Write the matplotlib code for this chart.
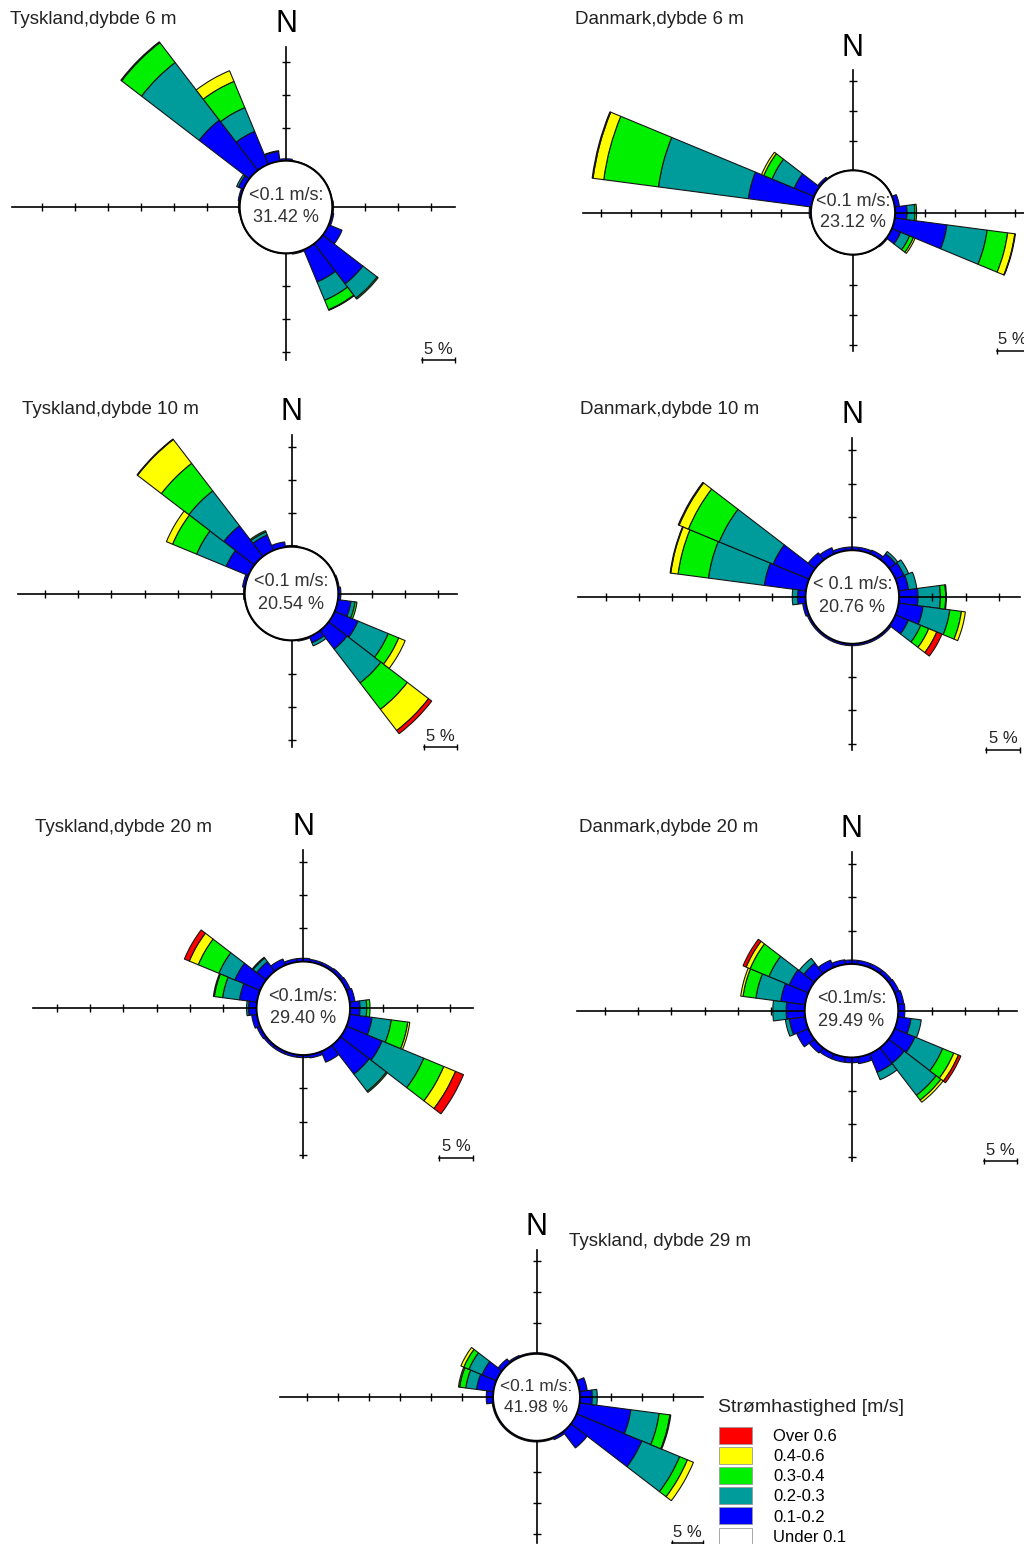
import numpy as np
import matplotlib.pyplot as plt
from matplotlib.patches import Circle, Patch

plt.rcParams['font.family'] = ['Liberation Sans', 'DejaVu Sans']

W, H = 1024, 1544
R0 = 7.0  # radius of the calm circle, in %

DIRS = np.arange(0, 360, 15)
CLASS_COLORS = ['#0000FF', '#009C9C', '#00F000', '#FFFF00', '#FF0000']
LEGEND_LABELS = ['Over 0.6', '0.4-0.6', '0.3-0.4', '0.2-0.3', '0.1-0.2', 'Under 0.1']
LEGEND_COLORS = ['#FF0000', '#FFFF00', '#00F000', '#009C9C', '#0000FF', '#FFFFFF']

# percent per direction (0, 15, ... 345 deg) and speed class
tysk6_b = [0.3, 0.1, 0.1, 0.1, 0.1, 0.1, 0.2, 0.3,
           2.2, 7.7, 5.3, 0.2, 0.1, 0.1, 0.1, 0.1,
           0.1, 0.1, 0.2, 0.3, 0.8, 9.6, 5.4, 1.5]
tysk6_t = [0, 0, 0, 0, 0, 0, 0, 0,
           0, 2.7, 3.0, 0, 0, 0, 0, 0,
           0, 0, 0, 0, 0.3, 11.0, 3.9, 0.1]
tysk6_g = [0, 0, 0, 0, 0, 0, 0, 0,
           0, 0.2, 1.55, 0, 0, 0, 0, 0,
           0, 0, 0, 0, 0, 3.8, 4.3, 0]
tysk6_y = [0, 0, 0, 0, 0, 0, 0, 0,
           0, 0, 0.1, 0, 0, 0, 0, 0,
           0, 0, 0, 0, 0, 0.15, 1.75, 0]
tysk6_r = [0, 0, 0, 0, 0, 0, 0, 0,
           0, 0, 0, 0, 0, 0, 0, 0,
           0, 0, 0, 0, 0, 0, 0, 0]

dan6_b = [0.1, 0.1, 0.1, 0.1, 0.1, 0.8, 2.0, 8.8,
          1.6, 0.2, 0.1, 0.1, 0.1, 0.1, 0.1, 0.1,
          0.1, 0.1, 0.3, 10.6, 3.6, 0.4, 0.1, 0.1]
dan6_t = [0, 0, 0, 0, 0, 0, 1.3, 6.75,
          1.6, 0, 0, 0, 0, 0, 0, 0,
          0, 0, 0, 15.1, 4.0, 0, 0, 0]
dan6_g = [0, 0, 0, 0, 0, 0, 0.3, 3.45,
          0.7, 0, 0, 0, 0, 0, 0, 0,
          0, 0, 0, 9.2, 1.5, 0, 0, 0]
dan6_y = [0, 0, 0, 0, 0, 0, 0, 1.2,
          0.3, 0, 0, 0, 0, 0, 0, 0,
          0, 0, 0, 1.8, 0.4, 0, 0, 0]
dan6_r = [0, 0, 0, 0, 0, 0, 0, 0.1,
          0, 0, 0, 0, 0, 0, 0, 0,
          0, 0, 0, 0.15, 0, 0, 0, 0]

tysk10_b = [0.2, 0.1, 0.1, 0.1, 0.1, 0.2, 0.4, 2.0,
            3.8, 3.5, 1.0, 0.2, 0.1, 0.1, 0.1, 0.1,
            0.1, 0.1, 0.2, 0.4, 3.6, 5.8, 2.5, 0.8]
tysk10_t = [0, 0, 0, 0, 0, 0, 0, 0.6,
            4.9, 6.4, 0.5, 0, 0, 0, 0, 0,
            0, 0, 0, 0, 4.8, 6.6, 0.5, 0]
tysk10_g = [0, 0, 0, 0, 0, 0, 0, 0.3,
            1.7, 5.0, 0, 0, 0, 0, 0, 0,
            0, 0, 0, 0, 3.9, 5.2, 0.2, 0]
tysk10_y = [0, 0, 0, 0, 0, 0, 0, 0,
            1.05, 4.0, 0, 0, 0, 0, 0, 0,
            0, 0, 0, 0, 1.0, 4.5, 0, 0]
tysk10_r = [0, 0, 0, 0, 0, 0, 0, 0,
            0, 0.6, 0, 0, 0, 0, 0, 0,
            0, 0, 0, 0, 0, 0.1, 0, 0]

dan10_b = [0.5, 0.5, 0.6, 1.2, 1.4, 1.5, 2.85, 3.7,
           2.1, 0.3, 0.3, 0.3, 0.3, 0.3, 0.3, 0.3,
           0.3, 0.5, 1.2, 6.3, 5.85, 1.35, 1.0, 0.5]
dan10_t = [0, 0, 0, 0.4, 0.75, 1.25, 3.35, 4.05,
           2.0, 0, 0, 0, 0, 0, 0, 0,
           0, 0, 0.8, 8.45, 8.75, 0, 0, 0]
dan10_g = [0, 0, 0, 0, 0, 0, 0.8, 1.75,
           1.3, 0, 0, 0, 0, 0, 0, 0,
           0, 0, 0, 4.6, 5.0, 0, 0, 0]
dan10_y = [0, 0, 0, 0, 0, 0, 0.1, 0.6,
           1.3, 0, 0, 0, 0, 0, 0, 0,
           0, 0, 0, 1.1, 1.5, 0, 0, 0]
dan10_r = [0, 0, 0, 0, 0, 0, 0, 0,
           0.85, 0, 0, 0, 0, 0, 0, 0,
           0, 0, 0, 0.1, 0.15, 0, 0, 0]

tysk20_b = [0.5, 0.4, 0.4, 0.5, 0.6, 0.8, 1.5, 3.4,
            5.8, 5.45, 1.75, 0.5, 0.4, 0.4, 0.4, 0.4,
            0.5, 0.8, 1.2, 2.65, 4.1, 1.8, 1.0, 0.5]
tysk20_t = [0, 0, 0, 0, 0, 0, 1.0, 2.9,
            6.75, 3.25, 0, 0, 0, 0, 0, 0,
            0, 0, 0.3, 2.55, 2.6, 0.7, 0, 0]
tysk20_g = [0, 0, 0, 0, 0, 0, 0.5, 2.5,
            3.25, 0.2, 0, 0, 0, 0, 0, 0,
            0, 0, 0, 1.25, 3.35, 0.15, 0, 0]
tysk20_y = [0, 0, 0, 0, 0, 0, 0, 0.3,
            1.9, 0, 0, 0, 0, 0, 0, 0,
            0, 0, 0, 0.15, 1.45, 0, 0, 0]
tysk20_r = [0, 0, 0, 0, 0, 0, 0, 0,
            1.3, 0, 0, 0, 0, 0, 0, 0,
            0, 0, 0, 0, 0.8, 0, 0, 0]

dan20_b = [0.6, 0.6, 0.6, 0.6, 0.7, 0.9, 1.0, 2.0,
           3.3, 2.95, 3.0, 1.0, 0.8, 0.8, 0.8, 1.0,
           1.9, 2.4, 2.8, 3.7, 3.1, 2.0, 1.2, 0.7]
dan20_t = [0, 0, 0, 0, 0, 0, 0, 1.55,
           4.5, 6.05, 1.2, 0, 0, 0, 0, 0,
           0, 0.6, 2.0, 3.75, 3.3, 0.9, 0, 0]
dan20_g = [0, 0, 0, 0, 0, 0, 0, 0,
           1.8, 0.9, 0, 0, 0, 0, 0, 0,
           0, 0, 0, 1.95, 3.05, 0, 0, 0]
dan20_y = [0, 0, 0, 0, 0, 0, 0, 0,
           0.75, 0.4, 0, 0, 0, 0, 0, 0,
           0, 0, 0, 0.35, 0.65, 0, 0, 0]
dan20_r = [0, 0, 0, 0, 0, 0, 0, 0,
           0.4, 0, 0, 0, 0, 0, 0, 0,
           0, 0, 0, 0, 0.5, 0, 0, 0]

tysk29_b = [0.2, 0.2, 0.2, 0.2, 0.2, 1.25, 2.0, 8.35,
            11.4, 3.3, 0.4, 0.2, 0.2, 0.2, 0.2, 0.2,
            0.2, 0.2, 1.1, 2.75, 2.5, 0.8, 0.3, 0.2]
tysk29_t = [0, 0, 0, 0, 0, 0, 0.8, 4.6,
            6.6, 0, 0, 0, 0, 0, 0, 0,
            0, 0, 0, 1.75, 2.3, 0, 0, 0]
tysk29_g = [0, 0, 0, 0, 0, 0, 0, 1.75,
            1.35, 0, 0, 0, 0, 0, 0, 0,
            0, 0, 0, 1.0, 0.9, 0, 0, 0]
tysk29_y = [0, 0, 0, 0, 0, 0, 0, 0.15,
            1.05, 0, 0, 0, 0, 0, 0, 0,
            0, 0, 0, 0.2, 0.5, 0, 0, 0]
tysk29_r = [0, 0, 0, 0, 0, 0, 0, 0,
            0, 0, 0, 0, 0, 0, 0, 0,
            0, 0, 0, 0, 0, 0, 0, 0]

titles = ['Tyskland,dybde 6 m', 'Danmark,dybde 6 m', 'Tyskland,dybde 10 m',
          'Danmark,dybde 10 m', 'Tyskland,dybde 20 m', 'Danmark,dybde 20 m',
          'Tyskland, dybde 29 m']
calm_labels = ['<0.1 m/s:', '<0.1 m/s:', '<0.1 m/s:', '< 0.1 m/s:',
               '<0.1m/s:', '<0.1m/s:', '<0.1 m/s:']
calm_values = [31.42, 23.12, 20.54, 20.76, 29.40, 29.49, 41.98]

roses = [
    [tysk6_b, tysk6_t, tysk6_g, tysk6_y, tysk6_r],
    [dan6_b, dan6_t, dan6_g, dan6_y, dan6_r],
    [tysk10_b, tysk10_t, tysk10_g, tysk10_y, tysk10_r],
    [dan10_b, dan10_t, dan10_g, dan10_y, dan10_r],
    [tysk20_b, tysk20_t, tysk20_g, tysk20_y, tysk20_r],
    [dan20_b, dan20_t, dan20_g, dan20_y, dan20_r],
    [tysk29_b, tysk29_t, tysk29_g, tysk29_y, tysk29_r],
]

# layout: centre (px), px per %, axis arm lengths (L, R, T, B) in %, ticks per arm, title pos (px)
centers = [(286, 207), (853, 212.5), (291.5, 593.5), (852.3, 597),
           (303.3, 1008.3), (851.5, 1010.7), (536.5, 1397.3)]
scales = [6.6, 6.0, 6.67, 6.67, 6.67, 6.67, 6.2]
arms = [(41.5, 25.6, 24.2, 23.2), (45, 29, 23.8, 23), (41, 24.8, 23.8, 23),
        (41.1, 25.1, 23.8, 22.9), (40.5, 25.4, 23.7, 22.4), (41.2, 24.8, 23.8, 22.6),
        (41.3, 26.9, 23.8, 23.5)]
nticks = [(6, 3, 3, 3), (7, 4, 3, 3), (6, 3, 3, 3), (6, 3, 3, 3),
          (6, 3, 3, 3), (6, 3, 3, 3), (6, 3, 3, 3)]
title_pos = [(10, 19), (575, 19), (22, 410), (580, 410), (35, 827), (579, 827), (569, 1242)]

fig = plt.figure(figsize=(W / 100, H / 100), dpi=100)

RMAX = 47
for k in range(7):
    cx, cy = centers[k]
    s = scales[k]
    half = RMAX * s
    rect = [(cx - half) / W, 1 - (cy + half) / H, 2 * half / W, 2 * half / H]

    pax = fig.add_axes(rect, projection='polar')
    pax.set_theta_zero_location('N')
    pax.set_theta_direction(-1)
    pax.set_ylim(0, RMAX)
    pax.set_axis_off()
    theta = np.deg2rad(DIRS)
    bottom = np.full(len(DIRS), R0)
    for vals, col in zip(roses[k], CLASS_COLORS):
        vals = np.asarray(vals, dtype=float)
        m = vals > 0
        pax.bar(theta[m], vals[m], width=np.deg2rad(15), bottom=bottom[m],
                color=col, edgecolor='#151515', linewidth=0.8)
        bottom = bottom + vals

    cax = fig.add_axes(rect)
    cax.set_xlim(-RMAX, RMAX)
    cax.set_ylim(-RMAX, RMAX)
    cax.set_axis_off()
    L, R, T, B = arms[k]
    nl, nr, nt, nb = nticks[k]
    cax.plot([-L, R], [0, 0], color='black', lw=1.2)
    cax.plot([0, 0], [-B, T], color='black', lw=1.2)
    xt = [-(R0 + 5 * i) for i in range(1, nl + 1)] + [R0 + 5 * i for i in range(1, nr + 1)]
    yt = [R0 + 5 * i for i in range(1, nt + 1)] + [-(R0 + 5 * i) for i in range(1, nb + 1)]
    cax.plot(xt, np.zeros(len(xt)), ls='none', marker='|', ms=6, mew=1.0, color='black')
    cax.plot(np.zeros(len(yt)), yt, ls='none', marker='_', ms=6, mew=1.0, color='black')
    cax.add_patch(Circle((0, 0), R0, facecolor='white', edgecolor='black', lw=1.3, zorder=3))
    fs = 13 if k < 6 else 12.5
    cax.text(0, 1.8, calm_labels[k], ha='center', va='center', fontsize=fs, color='#333333', zorder=4)
    cax.text(0, -1.6, f'{calm_values[k]:.2f} %', ha='center', va='center', fontsize=fs,
             color='#333333', zorder=4)
    cax.text(0, T + 1.2, 'N', ha='center', va='bottom', fontsize=22)

    # 5 % scale bar
    cax.plot([R - 5, R], [-B, -B], color='black', lw=1.1)
    cax.plot([R - 5, R], [-B, -B], ls='none', marker='|', ms=5, mew=1.0, color='black')
    cax.text(R - 2.5, -B + 0.5, '5 %', ha='center', va='bottom', fontsize=12, color='#222222')

    tx, ty = title_pos[k]
    fig.text(tx / W, 1 - ty / H, titles[k], ha='left', va='center', fontsize=13.5, color='#222222')

fig.text(718 / W, 1 - 1408 / H, 'Strømhastighed [m/s]', ha='left', va='center',
         fontsize=14, color='#222222')
handles = [Patch(facecolor=c, edgecolor='#999999', lw=0.6) for c in LEGEND_COLORS]
fig.legend(handles, LEGEND_LABELS, loc='upper left',
           bbox_to_anchor=(719 / W, 1 - 1427 / H), frameon=False, fontsize=12,
           handlelength=1.98, handleheight=1.19, handletextpad=1.26,
           labelspacing=0.18, borderpad=0, borderaxespad=0)

fig.savefig('out.png', dpi=100)
